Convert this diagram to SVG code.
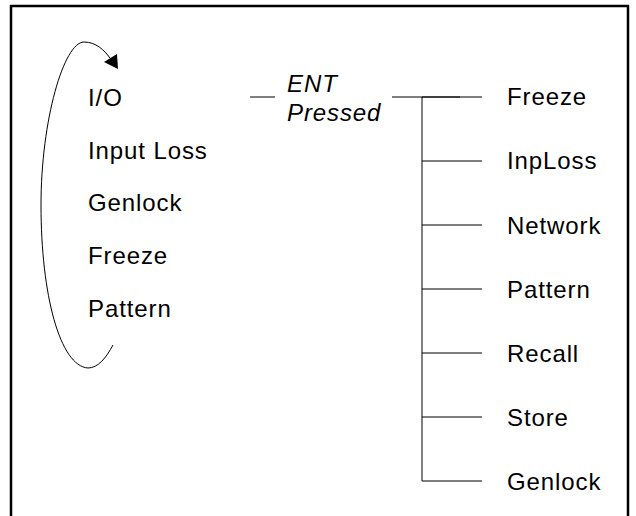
<svg xmlns="http://www.w3.org/2000/svg" width="636" height="516" viewBox="0 0 636 516">
<style>
.t{font-family:"Liberation Sans",Arial,sans-serif;font-size:24px;letter-spacing:0.9px;fill:#000}
.i{font-style:italic}
.ln{stroke:#000;stroke-width:1;fill:none}
</style>
<rect x="0" y="0" width="636" height="516" fill="#fff"/>
<rect x="11" y="6" width="617" height="530" fill="none" stroke="#000" stroke-width="2.5"/>
<g id="connectors">
<path class="ln" d="M113,345 C106,358 98,368 88,368 C60,366 41,295 41,205 C41,120 64,42 84,42 C96,42 104,50 110,58"/>
<polygon points="104,62 117,54 118,69" fill="#000"/>
<line class="ln" x1="250" y1="97" x2="275" y2="97"/>
<line class="ln" x1="392" y1="97" x2="460" y2="97"/>
<line class="ln" x1="422" y1="97" x2="422" y2="481"/>
<line class="ln" x1="422" y1="97" x2="482" y2="97"/>
<line class="ln" x1="422" y1="161" x2="482" y2="161"/>
<line class="ln" x1="422" y1="225" x2="482" y2="225"/>
<line class="ln" x1="422" y1="289" x2="482" y2="289"/>
<line class="ln" x1="422" y1="353" x2="482" y2="353"/>
<line class="ln" x1="422" y1="417" x2="482" y2="417"/>
<line class="ln" x1="422" y1="481" x2="482" y2="481"/>
</g>
<g id="menu-io"><text class="t" x="88" y="106">I/O</text></g>
<g id="menu-inputloss"><text class="t" x="88" y="159">Input Loss</text></g>
<g id="menu-genlock"><text class="t" x="88" y="211">Genlock</text></g>
<g id="menu-freeze"><text class="t" x="88" y="264">Freeze</text></g>
<g id="menu-pattern"><text class="t" x="88" y="317">Pattern</text></g>
<g id="ent-pressed"><text class="t i" x="287" y="92">ENT</text><text class="t i" x="287" y="121">Pressed</text></g>
<g id="sub-freeze"><text class="t" x="507" y="105">Freeze</text></g>
<g id="sub-inploss"><text class="t" x="507" y="169">InpLoss</text></g>
<g id="sub-network"><text class="t" x="507" y="234">Network</text></g>
<g id="sub-pattern"><text class="t" x="507" y="298">Pattern</text></g>
<g id="sub-recall"><text class="t" x="507" y="362">Recall</text></g>
<g id="sub-store"><text class="t" x="507" y="426">Store</text></g>
<g id="sub-genlock"><text class="t" x="507" y="490">Genlock</text></g>
</svg>
